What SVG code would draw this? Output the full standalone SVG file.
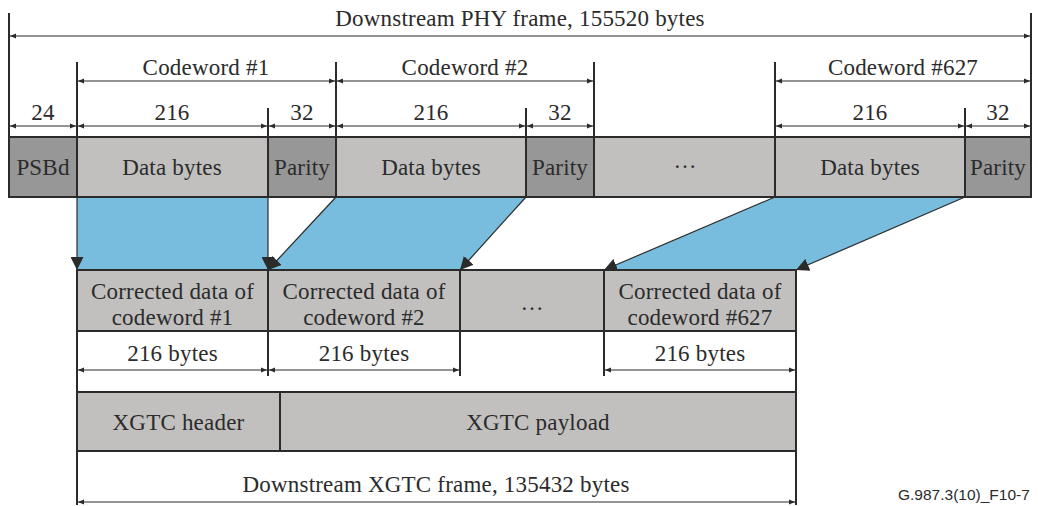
<svg xmlns="http://www.w3.org/2000/svg" width="1038" height="506" viewBox="0 0 1038 506">
<defs>
<style>
.t{font-family:"Liberation Serif","Times New Roman",serif;font-size:23px;letter-spacing:0.2px;fill:#2b2b2b;text-anchor:middle}
.lt{fill:#c1c0bf;stroke:#2b2b2b;stroke-width:2}
.dk{fill:#979797;stroke:#2b2b2b;stroke-width:2}
.blue{fill:#78bddd;stroke:none}
.ext{stroke:#2b2b2b;stroke-width:2;fill:none}
.dim{stroke:#2b2b2b;stroke-width:1.2;fill:none;marker-start:url(#ds);marker-end:url(#de)}
.map{stroke:#2b2b2b;stroke-width:1.2;fill:none;marker-end:url(#big)}
.fig{font-family:"Liberation Sans",Arial,sans-serif;font-size:15.5px;fill:#2b2b2b}
</style>
<marker id="de" viewBox="0 0 10 10" refX="10" refY="5" markerWidth="8" markerHeight="6" markerUnits="userSpaceOnUse" orient="auto"><path d="M0,1 L10,5 L0,9 Z" fill="#2b2b2b"/></marker>
<marker id="ds" viewBox="0 0 10 10" refX="0" refY="5" markerWidth="8" markerHeight="6" markerUnits="userSpaceOnUse" orient="auto"><path d="M10,1 L0,5 L10,9 Z" fill="#2b2b2b"/></marker>
<marker id="big" viewBox="0 0 10 10" refX="10" refY="5" markerWidth="13" markerHeight="13" markerUnits="userSpaceOnUse" orient="auto"><path d="M0,0 L10,5 L0,10 Z" fill="#2b2b2b"/></marker>
</defs>
<rect width="1038" height="506" fill="#ffffff"/>

<g id="mapping-fills">
<polygon class="blue" points="77,197 268,197 268,270 77,270"/>
<polygon class="blue" points="336,197 526,197 460,270 268,270"/>
<polygon class="blue" points="775,197 965,197 796,270 604,270"/>
</g>

<g id="phy-frame">
<g id="psbd"><rect class="dk" x="9" y="137" width="68" height="60"/><text class="t" x="43" y="175">PSBd</text></g>
<g id="data1"><rect class="lt" x="77" y="137" width="191" height="60"/><text class="t" x="172" y="175">Data bytes</text></g>
<g id="parity1"><rect class="dk" x="268" y="137" width="68" height="60"/><text class="t" x="302" y="175">Parity</text></g>
<g id="data2"><rect class="lt" x="336" y="137" width="190" height="60"/><text class="t" x="431" y="175">Data bytes</text></g>
<g id="parity2"><rect class="dk" x="526" y="137" width="68" height="60"/><text class="t" x="560" y="175">Parity</text></g>
<g id="ellipsis-top"><rect class="lt" x="594" y="137" width="181" height="60"/><text class="t" x="685" y="168">…</text></g>
<g id="data627"><rect class="lt" x="775" y="137" width="190" height="60"/><text class="t" x="870" y="175">Data bytes</text></g>
<g id="parity627"><rect class="dk" x="965" y="137" width="66" height="60"/><text class="t" x="998" y="175">Parity</text></g>
</g>

<g id="corrected-row">
<g id="cd1"><rect class="lt" x="77" y="270" width="191" height="61"/><text class="t" x="172.5" y="299">Corrected data of</text><text class="t" x="172.5" y="325">codeword #1</text></g>
<g id="cd2"><rect class="lt" x="268" y="270" width="192" height="61"/><text class="t" x="364" y="299">Corrected data of</text><text class="t" x="364" y="325">codeword #2</text></g>
<g id="cdell"><rect class="lt" x="460" y="270" width="144" height="61"/><text class="t" x="532" y="310">…</text></g>
<g id="cd627"><rect class="lt" x="604" y="270" width="192" height="61"/><text class="t" x="700" y="299">Corrected data of</text><text class="t" x="700" y="325">codeword #627</text></g>
</g>

<g id="xgtc-frame">
<g id="xgtc-header"><rect class="lt" x="77" y="392" width="203" height="59"/><text class="t" x="178.5" y="430">XGTC header</text></g>
<g id="xgtc-payload"><rect class="lt" x="280" y="392" width="516" height="59"/><text class="t" x="538" y="430">XGTC payload</text></g>
</g>

<g id="connectors">
<path class="ext" d="M9,13V137 M1031,13V137 M77,62V137 M336,62V137 M594,62V137 M775,62V137 M268,108V137 M526,108V137 M965,108V137"/>
<path class="ext" d="M77,331V505 M796,331V505 M268,331V376 M460,331V376 M604,331V376"/>
<path class="dim" d="M10,36H1030"/>
<path class="dim" d="M78,81H335"/>
<path class="dim" d="M337,81H593"/>
<path class="dim" d="M776,81H1030"/>
<path class="dim" d="M10,126H76"/>
<path class="dim" d="M78,126H267"/>
<path class="dim" d="M269,126H335"/>
<path class="dim" d="M337,126H525"/>
<path class="dim" d="M527,126H593"/>
<path class="dim" d="M776,126H964"/>
<path class="dim" d="M966,126H1030"/>
<path class="dim" d="M78,370H267"/>
<path class="dim" d="M269,370H459"/>
<path class="dim" d="M605,370H795"/>
<path class="dim" d="M78,502H795"/>
<path class="map" d="M77,197V270"/>
<path class="map" d="M268,197V270"/>
<path class="map" d="M336,197L268,270"/>
<path class="map" d="M526,197L460,270"/>
<path class="map" d="M775,197L604,270"/>
<path class="map" d="M965,197L796,270"/>
</g>

<g id="dimension-labels">
<text class="t" x="520" y="26">Downstream PHY frame, 155520 bytes</text>
<text class="t" x="206" y="75">Codeword #1</text>
<text class="t" x="465" y="75">Codeword #2</text>
<text class="t" x="903" y="75">Codeword #627</text>
<text class="t" x="43" y="120">24</text>
<text class="t" x="172" y="120">216</text>
<text class="t" x="302" y="120">32</text>
<text class="t" x="431" y="120">216</text>
<text class="t" x="560" y="120">32</text>
<text class="t" x="870" y="120">216</text>
<text class="t" x="998" y="120">32</text>
<text class="t" x="172.5" y="361">216 bytes</text>
<text class="t" x="364" y="361">216 bytes</text>
<text class="t" x="700" y="361">216 bytes</text>
<text class="t" x="436" y="492">Downstream XGTC frame, 135432 bytes</text>
</g>
<text class="fig" x="898" y="500">G.987.3(10)_F10-7</text>
</svg>
